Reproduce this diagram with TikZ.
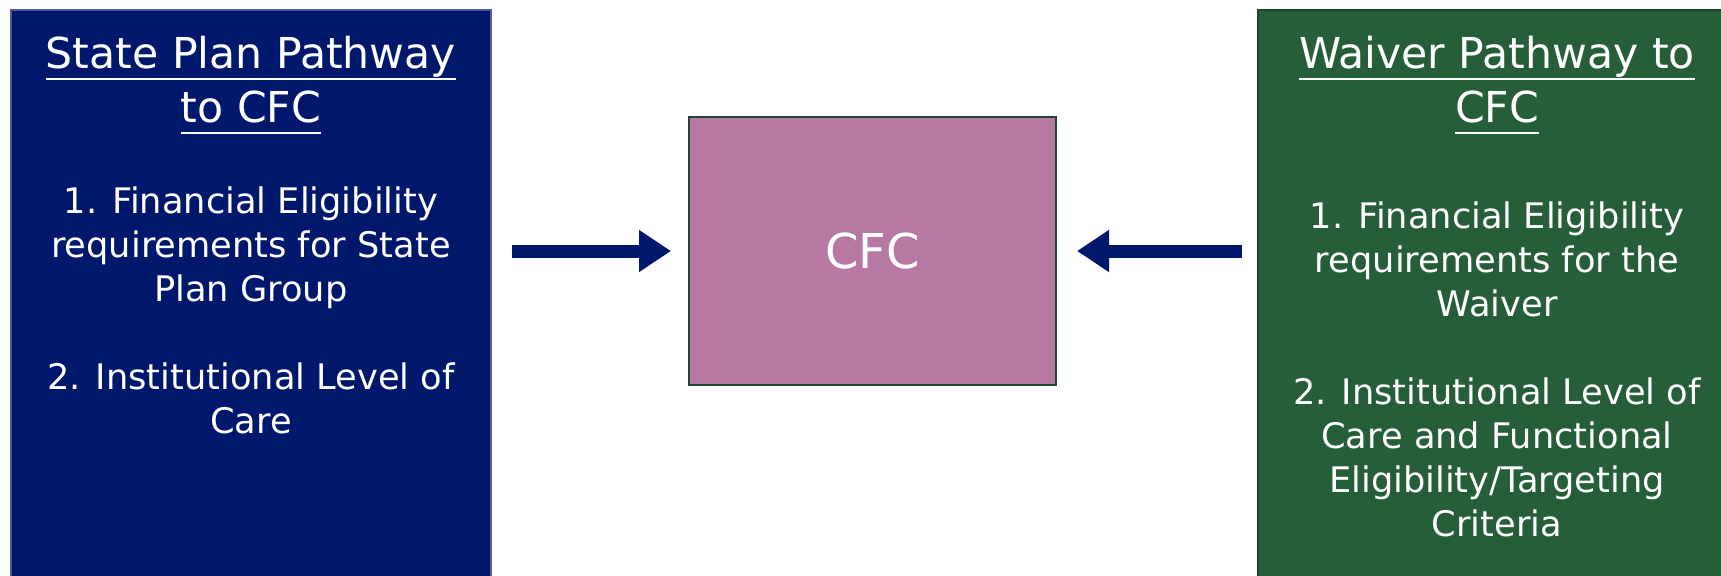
\documentclass[tikz,border=0pt]{standalone}
\usepackage{fontspec}
\setmainfont{DejaVu Sans}
\usetikzlibrary{arrows.meta,positioning}

\definecolor{navyfill}{RGB}{0,24,108}
\definecolor{greenfill}{RGB}{38,94,58}
\definecolor{cfcfill}{RGB}{183,121,163}
\definecolor{cfcline}{RGB}{30,72,45}
\newcommand{\ttlline}[1]{\setbox0\hbox{#1}\rlap{\rule[-5.5pt]{\wd0}{1pt}}\box0}

\begin{document}
\begin{tikzpicture}[x=0.5pt,y=-0.5pt,>={Triangle[length=16pt,width=20pt]},
  path box/.style={draw,line width=1pt,minimum width=240pt,
  minimum height=300pt,inner sep=0pt},
  title text/.style={text=white,align=center,inner sep=0pt,
  font=\fontsize{21.3}{27}\selectfont},
  body text/.style={text=white,align=center,inner sep=0pt,
  font=\fontsize{17.6}{22}\selectfont},
  big arrow/.style={->,draw=navyfill,line width=6.5pt}]

  \useasboundingbox (0,0) rectangle (1721,575);

  \node[path box,fill=navyfill,draw=navyfill!70!white,anchor=north] (state) at (251,9) {};
  \node[path box,fill=greenfill,draw=greenfill!75!black,minimum width=239pt,
    anchor=north west] (waiver) at (1257,9) {};
  \node[draw=cfcline,line width=1pt,fill=cfcfill,minimum width=183.5pt,
    minimum height=134pt,text=white,font=\fontsize{24}{28}\selectfont] (cfc) at (872.5,251) {CFC};

  % left pathway
  \node[title text,below=13.5pt of state.north] (statetitle)
    {\ttlline{State Plan Pathway}\\\ttlline{to CFC}};
  \node[body text,below=88.5pt of state.north] (statereq)
    {1. Financial Eligibility\\requirements for State\\Plan Group\\[22pt]
     2. Institutional Level of\\Care};

  % right pathway
  \node[title text,below=13.5pt of waiver.north] (waivertitle)
    {\ttlline{Waiver Pathway to}\\\ttlline{CFC}};
  \node[body text,below=96pt of waiver.north] (waiverreq)
    {1. Financial Eligibility\\requirements for the\\Waiver\\[22pt]
     2. Institutional Level of\\Care and Functional\\Eligibility/Targeting\\Criteria};

  \draw[big arrow,shorten <=10pt,shorten >=8.5pt] (cfc -| state.east) -- (cfc.west);
  \draw[big arrow,shorten <=7.5pt,shorten >=10pt] (cfc -| waiver.west) -- (cfc.east);
\end{tikzpicture}
\end{document}
